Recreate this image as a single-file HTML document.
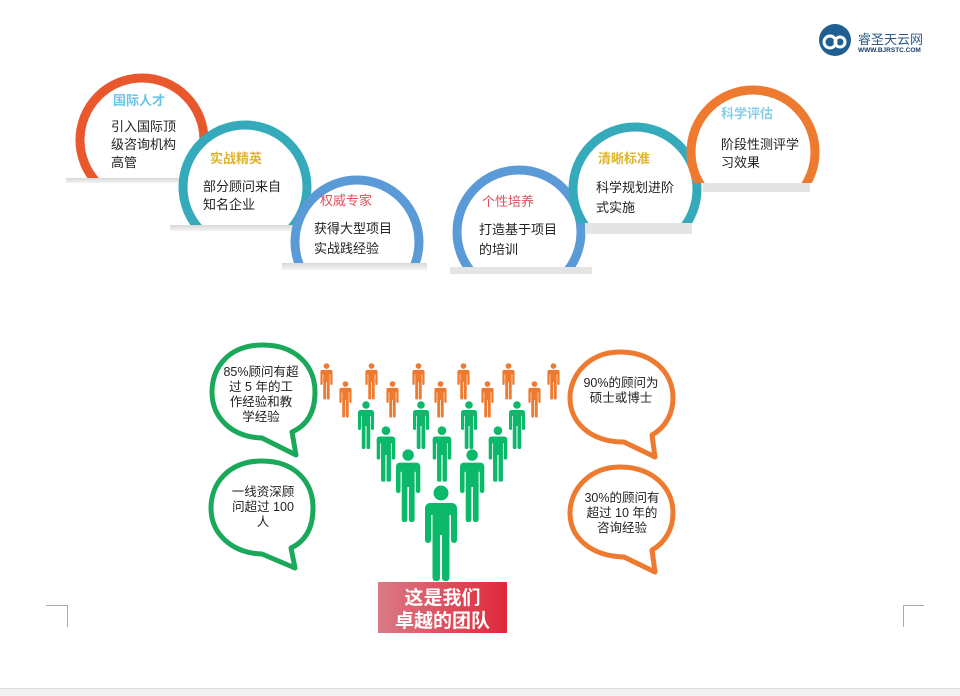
<!DOCTYPE html>
<html><head><meta charset="utf-8"><style>
html,body{margin:0;padding:0;background:#fff}
svg{display:block}
text{font-family:"Liberation Sans","Noto Sans CJK SC",sans-serif}
</style></head><body>
<svg width="960" height="696" viewBox="0 0 960 696" xmlns="http://www.w3.org/2000/svg">
<defs>
<symbol id="p" viewBox="0 0 32 96" width="32" height="96" overflow="visible">
<circle cx="16" cy="8" r="7.5"/>
<rect x="0" y="18" width="32" height="12" rx="5"/>
<rect x="0" y="22" width="6" height="36" rx="3"/>
<rect x="26" y="22" width="6" height="36" rx="3"/>
<rect x="7.5" y="22" width="17" height="28"/>
<rect x="7.5" y="44" width="7.5" height="52" rx="3"/>
<rect x="17" y="44" width="7.5" height="52" rx="3"/>
</symbol>
<linearGradient id="rg" x1="0" x2="1" y1="0" y2="0"><stop offset="0" stop-color="#da7a86"/><stop offset="1" stop-color="#e0283a"/></linearGradient>
<linearGradient id="sh" x1="0" x2="0" y1="0" y2="1"><stop offset="0" stop-color="#d8d8d8"/><stop offset="1" stop-color="#f4f4f4"/></linearGradient>
<clipPath id="c1"><rect x="0" y="0" width="960" height="178"/></clipPath>
<clipPath id="c2"><rect x="0" y="0" width="960" height="225"/></clipPath>
<clipPath id="c3"><rect x="0" y="0" width="960" height="263"/></clipPath>
<clipPath id="c4"><rect x="0" y="0" width="960" height="267"/></clipPath>
<clipPath id="c5"><rect x="0" y="0" width="960" height="223"/></clipPath>
<clipPath id="c6"><rect x="0" y="0" width="960" height="183"/></clipPath>
</defs>

<!-- arches left -->
<g clip-path="url(#c1)"><circle cx="142" cy="140" r="62" fill="#fff" stroke="#e8582c" stroke-width="9"/></g>
<rect x="66" y="178" width="140" height="5" fill="url(#sh)"/>
<text x="113" y="105" font-size="13" font-weight="bold" fill="#6cc4e4">国际人才</text>
<text font-size="13" fill="#222"><tspan x="111" y="131">引入国际顶</tspan><tspan x="111" y="149">级咨询机构</tspan><tspan x="111" y="167">高管</tspan></text>

<g clip-path="url(#c2)"><circle cx="245" cy="187" r="62" fill="#fff" stroke="#35aabb" stroke-width="9"/></g>
<rect x="170" y="225" width="135" height="6" fill="url(#sh)"/>
<text x="210" y="163" font-size="13" font-weight="bold" fill="#e0b42a">实战精英</text>
<text font-size="13" fill="#222"><tspan x="203" y="191">部分顾问来自</tspan><tspan x="203" y="209">知名企业</tspan></text>

<g clip-path="url(#c3)"><circle cx="357" cy="242" r="62" fill="#fff" stroke="#5a9ad6" stroke-width="9"/></g>
<rect x="282" y="263" width="145" height="7" fill="url(#sh)"/>
<text x="320" y="205" font-size="13" fill="#e0505a">权威专家</text>
<text font-size="13" fill="#222"><tspan x="314" y="233">获得大型项目</tspan><tspan x="314" y="253">实战践经验</tspan></text>

<!-- arches right -->
<g clip-path="url(#c4)"><circle cx="519" cy="232" r="62" fill="#fff" stroke="#5a9ad6" stroke-width="9"/></g>
<rect x="450" y="267" width="142" height="7" fill="#e4e4e4"/>
<text x="482" y="206" font-size="13" fill="#e0505a">个性培养</text>
<text font-size="13" fill="#222"><tspan x="479" y="234">打造基于项目</tspan><tspan x="479" y="254">的培训</tspan></text>

<g clip-path="url(#c5)"><circle cx="635" cy="189" r="62" fill="#fff" stroke="#35aabb" stroke-width="9"/></g>
<rect x="585" y="223" width="107" height="11" fill="#e4e4e4"/>
<text x="598" y="163" font-size="13" font-weight="bold" fill="#e0b42a">清晰标准</text>
<text font-size="13" fill="#222"><tspan x="596" y="192">科学规划进阶</tspan><tspan x="596" y="212">式实施</tspan></text>

<g clip-path="url(#c6)"><circle cx="753" cy="152" r="62" fill="#fff" stroke="#ee7a30" stroke-width="9"/></g>
<rect x="703" y="183" width="107" height="9" fill="#e4e4e4"/>
<text x="721" y="118" font-size="13" font-weight="bold" fill="#86cfe8">科学评估</text>
<text font-size="13" fill="#222"><tspan x="721" y="149">阶段性测评学</tspan><tspan x="721" y="167">习效果</tspan></text>

<!-- logo -->
<circle cx="835" cy="40" r="16" fill="#1f5f92"/>
<circle cx="830" cy="42" r="6" fill="none" stroke="#fff" stroke-width="3"/>
<circle cx="840" cy="42" r="5" fill="none" stroke="#fff" stroke-width="3"/>
<text x="858" y="44" font-size="13" fill="#2a5a8a" font-family="'Noto Serif CJK SC',serif">睿圣天云网</text>
<text x="858" y="52" font-size="6.5" font-weight="bold" fill="#1a3a6a">WWW.BJRSTC.COM</text>

<!-- speech bubbles -->
<g fill="#fff" stroke-width="5" stroke-linejoin="round">
<path d="M263,345 C228,345 212,368 212,392 C212,418 232,437 262,438 L296,455 L292,432 C310,424 315,408 315,392 C315,366 296,345 263,345 Z" stroke="#1aa85a"/>
<path d="M262,461 C228,461 211,484 211,508 C211,534 232,553 262,554 L295,568 L291,548 C308,540 313,524 313,508 C313,482 295,461 262,461 Z" stroke="#1aa85a"/>
<path d="M620,352 C590,352 570,374 570,398 C570,422 590,442 624,442 L655,457 L652,435 C666,427 673,413 673,398 C673,372 652,352 620,352 Z" stroke="#ee7a30"/>
<path d="M620,467 C590,467 570,489 570,513 C570,537 590,556 624,557 L655,572 L652,550 C666,542 673,528 673,513 C673,487 652,467 620,467 Z" stroke="#ee7a30"/>
</g>
<g font-size="12.5" fill="#222" text-anchor="middle">
<text><tspan x="261" y="376">85%顾问有超</tspan><tspan x="261" y="391">过 5 年的工</tspan><tspan x="261" y="406">作经验和教</tspan><tspan x="261" y="421">学经验</tspan></text>
<text><tspan x="263" y="496">一线资深顾</tspan><tspan x="263" y="511">问超过 100</tspan><tspan x="263" y="526">人</tspan></text>
<text><tspan x="621" y="387">90%的顾问为</tspan><tspan x="621" y="402">硕士或博士</tspan></text>
<text><tspan x="622" y="502">30%的顾问有</tspan><tspan x="622" y="517">超过 10 年的</tspan><tspan x="622" y="532">咨询经验</tspan></text>
</g>

<!-- people -->
<g fill="#ee7a30">
<use href="#p" transform="translate(320.4,363) scale(0.38)"/>
<use href="#p" transform="translate(365.4,363) scale(0.38)"/>
<use href="#p" transform="translate(412.4,363) scale(0.38)"/>
<use href="#p" transform="translate(457.4,363) scale(0.38)"/>
<use href="#p" transform="translate(502.4,363) scale(0.38)"/>
<use href="#p" transform="translate(547.4,363) scale(0.38)"/>
<use href="#p" transform="translate(339.4,381) scale(0.38)"/>
<use href="#p" transform="translate(386.4,381) scale(0.38)"/>
<use href="#p" transform="translate(434.4,381) scale(0.38)"/>
<use href="#p" transform="translate(481.4,381) scale(0.38)"/>
<use href="#p" transform="translate(528.4,381) scale(0.38)"/>
</g>
<g fill="#0cb86a">
<use href="#p" transform="translate(358,401) scale(0.5)"/>
<use href="#p" transform="translate(413,401) scale(0.5)"/>
<use href="#p" transform="translate(461,401) scale(0.5)"/>
<use href="#p" transform="translate(509,401) scale(0.5)"/>
<use href="#p" transform="translate(376.7,426) scale(0.58)"/>
<use href="#p" transform="translate(432.7,426) scale(0.58)"/>
<use href="#p" transform="translate(488.7,426) scale(0.58)"/>
<use href="#p" transform="translate(396,449) scale(0.76)"/>
<use href="#p" transform="translate(460,449) scale(0.76)"/>
<use href="#p" transform="translate(425,485) scale(1)"/>
</g>

<!-- red box -->
<rect x="378" y="582" width="129" height="51" fill="url(#rg)"/>
<text x="442.5" y="604" font-size="19" font-weight="bold" fill="#fff" text-anchor="middle">这是我们</text>
<text x="442.5" y="627" font-size="19" font-weight="bold" fill="#fff" text-anchor="middle">卓越的团队</text>

<!-- corner marks -->
<path d="M46,605.5 H67.5 V627" fill="none" stroke="#aaa" stroke-width="1"/>
<path d="M924,605.5 H903.5 V627" fill="none" stroke="#aaa" stroke-width="1"/>
<!-- bottom bar -->
<rect x="0" y="688" width="960" height="8" fill="#f2f2f2"/>
<line x1="0" y1="688.5" x2="960" y2="688.5" stroke="#dcdcdc"/>
</svg>
</body></html>
